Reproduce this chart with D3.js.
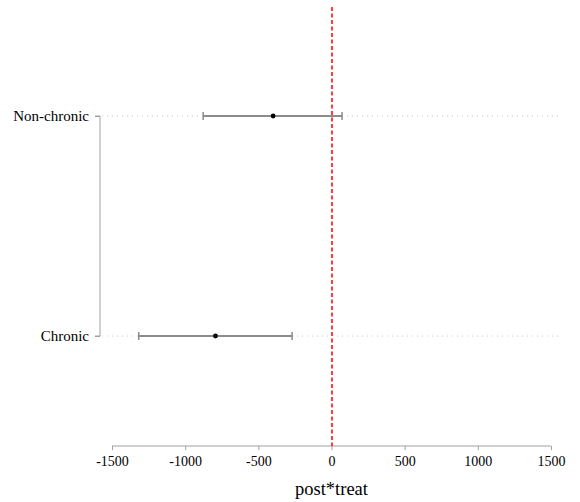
<!DOCTYPE html>
<html><head><meta charset="utf-8">
<script src="https://cdn.jsdelivr.net/npm/d3@7"></script>
<style>body{margin:0;background:#fff}svg{display:block}</style>
</head><body>
<svg id="c" width="580" height="502"></svg>
<script>
const categories = ["Non-chronic", "Chronic"];
const estimates = [-399, -793];
const lower = [-877, -1317];
const upper = [72, -269];
const xTicks = [-1500, -1000, -500, 0, 500, 1000, 1500];
const xTitle = "post*treat";

const svg = d3.select("#c");
const font = "'Liberation Serif', 'Times New Roman', serif";
const x = d3.scaleLinear().domain([-1500, 1500]).range([112, 551]);
const y = d3.scalePoint().domain(categories).range([116, 336]);

// gridlines
svg.append("g").selectAll("line").data(categories).join("line")
  .attr("x1", 102).attr("x2", 560)
  .attr("y1", d => y(d)).attr("y2", d => y(d))
  .attr("stroke", "#c8c8c8").attr("stroke-width", 1).attr("stroke-dasharray", "1,4");

// y axis
const ya = svg.append("g").attr("transform", "translate(100,0)")
  .attr("font-family", font).attr("font-size", 15)
  .call(d3.axisLeft(y).tickSize(5).tickPadding(6));
ya.attr("font-family", font).attr("font-size", 15);
ya.select(".domain").attr("stroke", "#a0a0a0").attr("d", `M-5,${y(categories[0])}H0V${y(categories[1])}H-5`);
ya.selectAll(".tick line").attr("stroke", "#a0a0a0");
ya.selectAll(".tick text").style("font-family", font).style("font-size", "15px").attr("fill", "#000");

// x axis
const xa = svg.append("g").attr("transform", "translate(0,446)")
  .call(d3.axisBottom(x).tickValues(xTicks).tickFormat(d => String(d)).tickSize(4).tickPadding(6));
xa.attr("font-family", font).attr("font-size", 14);
xa.select(".domain").attr("stroke", "#a0a0a0").attr("d", `M${x(-1500)},0H${x(1500)}`);
xa.selectAll(".tick line").attr("stroke", "#a0a0a0");
xa.selectAll(".tick text").style("font-family", font).style("font-size", "14px").attr("fill", "#000");

svg.append("text").attr("x", x(0)).attr("y", 495).attr("text-anchor", "middle")
  .style("font-family", font).style("font-size", "18.5px").text(xTitle);

// zero line
svg.append("line").attr("x1", Math.round(x(0))).attr("x2", Math.round(x(0))).attr("y1", 7).attr("y2", 446)
  .attr("stroke", "#ff0000").attr("stroke-width", 1.5).attr("stroke-dasharray", "4,2.5");

// error bars
const g = svg.append("g");
categories.forEach((c, i) => {
  const yy = y(c);
  g.append("line").attr("x1", x(lower[i])).attr("x2", x(upper[i])).attr("y1", yy).attr("y2", yy)
    .attr("stroke", "#8c8c8c").attr("stroke-width", 1.8);
  [lower[i], upper[i]].forEach(v => g.append("line").attr("x1", x(v)).attr("x2", x(v))
    .attr("y1", yy - 4).attr("y2", yy + 4).attr("stroke", "#8c8c8c").attr("stroke-width", 1.5));
  g.append("circle").attr("cx", x(estimates[i])).attr("cy", yy).attr("r", 2.4).attr("fill", "#000");
});
</script>
</body></html>
